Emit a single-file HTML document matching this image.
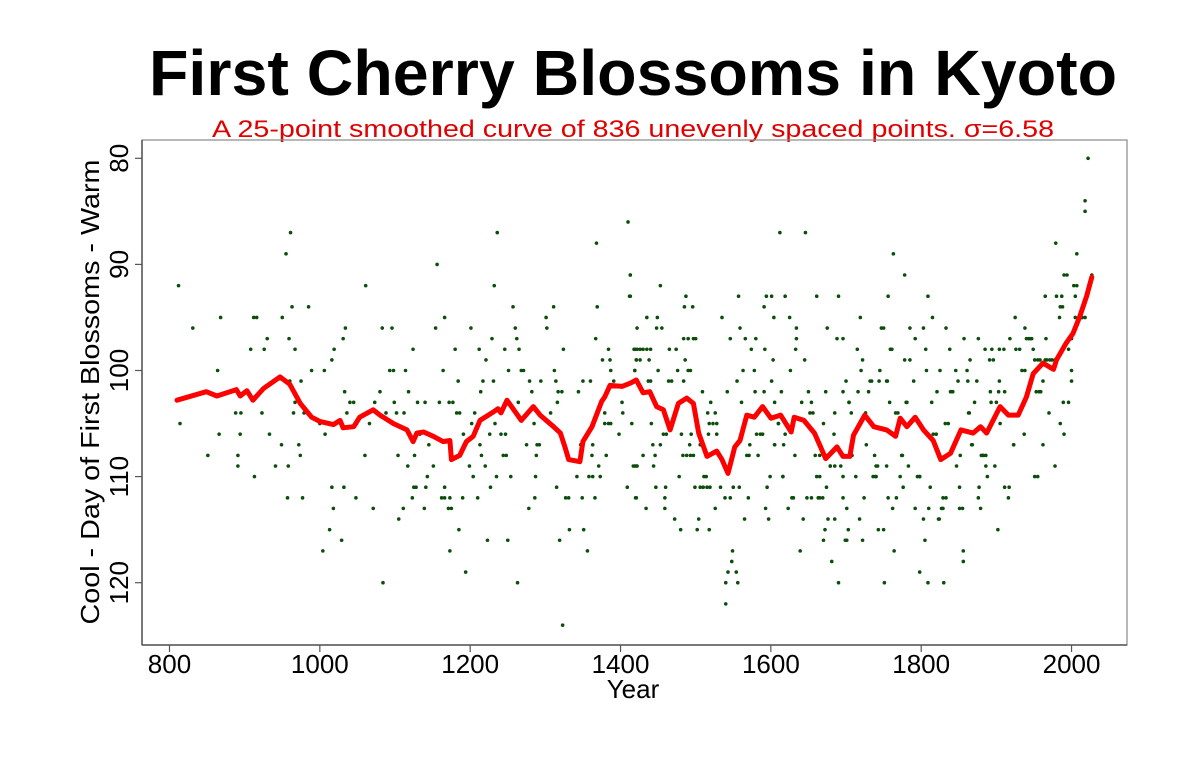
<!DOCTYPE html>
<html><head><meta charset="utf-8"><style>
html,body{margin:0;padding:0;background:#fff;}
svg{display:block;font-family:"Liberation Sans",Arial,sans-serif;}
</style></head><body>
<svg id="chart" width="1199" height="776" viewBox="0 0 1199 776">
<text x="633" y="95" text-anchor="middle" font-size="64" font-weight="bold" textLength="968" lengthAdjust="spacingAndGlyphs">First Cherry Blossoms in Kyoto</text>
<text x="633" y="137" text-anchor="middle" font-size="24" fill="#e00000" textLength="842" lengthAdjust="spacingAndGlyphs">A 25-point smoothed curve of 836 unevenly spaced points.  σ=6.58</text>
<rect x="142" y="140" width="985" height="505" fill="none" stroke="#888" stroke-width="1.2"/>
<line x1="142" y1="140" x2="142" y2="645" stroke="#555" stroke-width="1.5"/>
<line x1="142" y1="645" x2="1127" y2="645" stroke="#555" stroke-width="1.5"/>
<g id="xticks"></g>
<g id="yticks"></g>
<g id="dots"></g>
<g id="curve"></g>
<text x="633" y="698" text-anchor="middle" font-size="26">Year</text>
<text transform="translate(99,392) rotate(-90)" text-anchor="middle" font-size="26" textLength="465" lengthAdjust="spacingAndGlyphs">Cool - Day of First Blossoms - Warm</text>
</svg>
<script>
const xTickValues=[800,1000,1200,1400,1600,1800,2000];
const yTickValues=[80,90,100,110,120];
const curveYears=[810,849,863,889,894,903,911,925,947,960,974,989,1000,1018,1027,1031,1045,1053,1071,1080,1098,1116,1124,1129,1138,1151,1164,1173,1175,1186,1195,1204,1213,1231,1237,1241,1249,1260,1268,1284,1293,1311,1320,1326,1331,1346,1350,1362,1375,1379,1386,1402,1413,1421,1430,1439,1448,1457,1466,1477,1488,1497,1504,1515,1528,1535,1543,1552,1559,1568,1578,1589,1600,1613,1627,1631,1644,1658,1673,1688,1696,1705,1710,1725,1737,1754,1766,1772,1781,1792,1803,1816,1826,1839,1853,1869,1879,1887,1905,1916,1929,1940,1949,1962,1976,1980,1993,2002,2011,2020,2027];
const curveDays=[102.8,102.0,102.4,101.8,102.4,101.9,102.8,101.7,100.6,101.3,103.1,104.4,104.8,105.1,104.7,105.4,105.3,104.4,103.7,104.2,105.0,105.6,106.7,105.9,105.8,106.2,106.7,106.6,108.4,108.0,106.7,106.2,104.7,103.9,103.6,104.0,102.8,103.9,104.7,103.4,104.2,105.3,105.9,107.2,108.4,108.6,106.7,105.3,102.9,102.5,101.4,101.5,101.2,100.9,102.1,102.0,103.4,103.7,105.6,103.1,102.6,103.1,105.9,108.1,107.6,108.4,109.7,107.2,106.6,104.2,104.4,103.4,104.5,104.2,105.8,104.4,104.7,105.9,108.3,107.2,108.1,108.1,106.1,104.2,105.3,105.6,106.2,104.5,105.3,104.4,105.6,106.6,108.4,107.8,105.6,105.9,105.3,105.9,103.4,104.2,104.2,102.5,100.3,99.3,99.9,99.0,97.4,96.5,94.9,93.0,91.2];
const pointYears=[812,814,831,851,864,866,868,888,891,891,894,895,902,908,912,916,913,923,926,930,933,941,949,950,955,957,958,959,960,961,963,965,967,967,972,974,975,977,979,985,989,1000,1004,1006,1007,1013,1016,1016,1018,1019,1029,1031,1032,1033,1034,1036,1040,1045,1048,1049,1060,1061,1066,1071,1073,1080,1083,1084,1088,1093,1098,1096,1099,1102,1104,1105,1111,1112,1114,1117,1118,1123,1124,1125,1128,1126,1130,1133,1139,1140,1141,1143,1145,1151,1154,1156,1159,1162,1166,1173,1164,1166,1166,1171,1175,1172,1173,1177,1180,1182,1186,1184,1185,1190,1191,1194,1199,1201,1202,1204,1206,1210,1212,1213,1214,1215,1217,1220,1221,1223,1226,1227,1229,1231,1232,1233,1235,1236,1241,1247,1244,1248,1246,1250,1251,1254,1257,1260,1262,1263,1264,1265,1268,1271,1275,1278,1279,1282,1285,1286,1287,1288,1289,1292,1294,1301,1302,1307,1311,1312,1314,1315,1316,1317,1322,1319,1323,1324,1327,1331,1332,1342,1344,1347,1350,1349,1351,1356,1358,1363,1373,1360,1362,1363,1366,1367,1368,1369,1371,1376,1386,1379,1379,1384,1387,1381,1384,1387,1391,1398,1402,1403,1409,1410,1412,1413,1415,1417,1421,1418,1422,1419,1420,1421,1422,
1413,1413,1419,1426,1430,1435,1440,1421,1426,1438,1419,1419,1422,1421,1434,1435,1437,1440,1430,1441,1444,1443,1446,1447,1449,1448,1455,1450,1453,1453,1457,1461,1459,1459,1460,1465,1474,1464,1468,1472,1476,1478,1480,1481,1483,1488,1493,1497,1484,1490,1497,1500,1484,1485,1496,1486,1487,1490,1493,1492,1494,1499,1506,1510,1515,1519,1502,1504,1506,1509,1511,1514,1516,1526,1517,1528,1518,1523,1528,1518,1520,1526,1533,1535,1539,1546,1540,1540,1542,1543,1554,1548,1549,1546,1550,1558,1556,1555,1557,1559,1561,1563,1565,1566,1568,1571,1570,1572,1574,1578,1579,1580,1581,1586,1589,1583,1591,1591,1592,1593,1594,1601,1595,1597,1599,1605,1610,1616,1601,1603,1604,1605,1605,1610,1614,1616,1617,1619,1619,1612,1623,1628,1630,1625,1626,1632,1633,1634,1634,1639,1641,1643,1645,1646,1648,1654,1650,1652,1656,1654,1661,1661,1665,1659,1665,1670,1663,1665,1669,1673,1670,1672,1674,1675,1676,1679,1679,1685,1693,1696,1681,1684,1685,1685,1690,1696,1688,1690,1700,1696,1696,1699,1701,1701,1704,1704,1703,1707,1708,1713,1715,1716,1718,1719,1720,1722,1722,1724,1726,1727,1730,1732,1734,1736,1740,1739,1743,1750,1740,1754,1742,1756,1759,1738,1744,1745,1747,1750,1751,1754,1755,1756,1767,1758,1763,1761,1762,1764,1766,1769,1772,1778,1774,1775,1776,1785,1778,1780,1781,1783,1798,1785,1790,1792,1792,1795,1798,1798,1803,1809,1803,1805,1806,1807,1809,1810,1812,1814,1815,1816,1820,1821,1824,1823,1825,1832,1827,1829,1829,1833,1830,1836,1833,1838,1839,1840,1842,1846,1847,1851,1855,1849,1851,1852,1861,1856,1856,1857,1862,1863,1864,1865,1867,1868,1877,1871,1874,1888,1876,1876,1879,1880,1882,1883,1886,1886,1898,1904,1910,1885,1894,1891,1896,1902,1911,1892,1903,1893,1900,1905,1916,1904,1918,1911,1917,1923,1923,1925,1937,1926,1949,1931,1934,1938,1951,1955,1938,1945,1940,1966,1943,1947,1955,1967,1974,1980,1951,1958,1965,1971,1978,1985,1996,2007,2018,1953,1957,1959,1962,1962,1980,1987,1965,1970,1978,1984,1990,1979,1985,1988,1989,1990,1994,2000,1996,2000,2003,2000,2005,2007,2005,2013,2014,2018,2018,2022,2027,2021,2024,2025,2023];
const pointDays=[92,105,96,108,100,106,95,104,108,109,106,104,102,98,95,95,110,104,98,97,106,109,107,95,89,112,109,97,101,87,94,104,98,103,107,108,101,112,104,94,100,105,117,100,106,115,111,99,113,98,116,97,111,102,96,104,103,103,112,105,108,92,105,113,103,102,96,120,104,100,100,96,103,104,108,114,113,104,100,109,102,112,98,111,111,108,103,106,113,103,111,110,107,109,96,90,103,112,112,112,100,95,111,113,113,103,117,103,98,104,104,101,115,112,106,119,109,96,105,110,104,112,98,107,102,108,101,109,99,116,106,111,97,101,92,105,110,87,106,106,108,108,98,116,100,110,94,96,97,120,103,98,100,100,107,113,101,102,105,112,110,108,107,107,101,95,96,104,94,100,101,111,103,102,102,116,124,98,112,112,115,110,102,107,101,112,115,117,110,110,110,101,108,107,112,97,88,94,109,99,99,104,105,105,105,108,98,100,101,106,103,104,111,86,93,91,105,109,109,98,98,100,112,99,96,
91,93,98,98,98,98,98,99,99,99,100,109,109,112,113,95,101,101,108,105,109,107,108,111,95,96,96,100,92,107,106,106,112,113,111,98,98,101,101,114,100,110,115,106,108,108,108,108,97,97,97,97,101,94,94,99,93,100,100,107,106,111,111,111,111,111,115,114,107,102,110,110,104,104,106,106,105,105,105,115,103,113,111,95,112,112,120,122,102,119,119,118,117,97,111,111,120,101,93,96,103,100,114,97,108,108,112,107,98,100,102,97,106,106,106,108,102,94,98,113,93,93,111,114,110,107,105,110,101,99,95,107,103,105,102,110,107,106,93,87,113,112,112,95,100,108,98,96,97,117,103,114,99,87,112,112,102,104,104,103,93,110,110,108,108,105,112,112,112,102,116,115,111,96,114,109,109,109,109,110,118,106,114,104,93,97,97,120,101,102,112,116,116,113,103,103,115,104,108,110,98,102,114,95,100,99,116,112,104,107,102,101,101,110,110,110,115,115,109,109,109,93,98,108,101,100,96,96,120,101,101,112,112,103,89,98,113,117,104,104,110,99,108,108,111,96,91,103,103,109,119,99,101,113,97,110,110,110,96,93,114,116,98,100,120,113,111,103,95,106,106,102,114,114,100,105,113,113,112,112,120,105,96,98,102,102,102,100,109,113,113,101,111,108,100,117,118,97,101,104,104,99,107,107,111,103,101,110,112,97,113,108,108,108,108,109,109,98,98,98,98,99,99,115,102,102,102,103,103,105,112,101,97,111,111,107,107,95,106,98,98,98,100,100,110,110,96,97,97,97,97,97,99,99,99,99,99,99,99,99,99,105,103,92,95,102,102,102,101,107,93,93,93,104,109,95,106,88,94,94,103,91,91,100,98,97,92,101,93,89,95,95,95,85,84,80,91];

const NS='http://www.w3.org/2000/svg';
function xScale(yr){return 169.5+(yr-800)*0.7517;}
function yScale(d){return 158.3+(d-80)*10.61;}
function mk(tag,attrs,parent){const e=document.createElementNS(NS,tag);for(const k in attrs)e.setAttribute(k,attrs[k]);parent.appendChild(e);return e;}

const xg=document.getElementById('xticks');
xTickValues.forEach(v=>{
  const x=xScale(v);
  const t=mk('line',{x1:x,y1:645,x2:x,y2:652,stroke:'#555','stroke-width':1.2},xg);
  
  
  const l=mk('text',{x:x,y:673,'text-anchor':'middle','font-size':26},xg);
  
  
  l.textContent=v;
});
const yg=document.getElementById('yticks');
yTickValues.forEach(v=>{
  const y=yScale(v);
  const t=mk('line',{x1:135,y1:y,x2:142,y2:y,stroke:'#555','stroke-width':1.2},yg);
  
  
  const l=mk('text',{transform:'translate(128,'+y+') rotate(-90)','text-anchor':'middle','font-size':26},yg);
  
  
  l.textContent=v;
});
const dg=document.getElementById('dots');
const n=Math.min(pointYears.length,pointDays.length);
for(let i=0;i<n;i++){
  const c=mk('circle',{cx:xScale(pointYears[i]),cy:yScale(pointDays[i]),r:1.8,fill:'#0b4d0b'},dg);
  
  
}
const cg=document.getElementById('curve');
let d='';
for(let i=0;i<curveYears.length;i++){d+=(i?'L':'M')+xScale(curveYears[i]).toFixed(1)+','+yScale(curveDays[i]).toFixed(1);}
const p=mk('path',{d:d,fill:'none',stroke:'#ff0000','stroke-width':5,'stroke-linejoin':'round','stroke-linecap':'round'},cg);


</script>
</body></html>
